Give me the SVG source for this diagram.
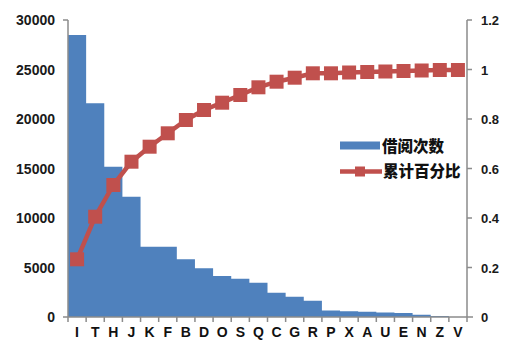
<svg xmlns="http://www.w3.org/2000/svg" width="506" height="343" viewBox="0 0 506 343">
<style>
.bar{fill:#4f81bd}
.axis{stroke:#8c8c8c;stroke-width:1.5;fill:none}
.lbl{font-family:"Liberation Sans",Arial,sans-serif;font-weight:bold;font-size:14px;fill:#1a1a1a}
.rl{font-family:"Liberation Sans",Arial,sans-serif;font-weight:bold;font-size:13px;fill:#1a1a1a}
.cat{font-family:"Liberation Sans",Arial,sans-serif;font-weight:bold;font-size:14px;fill:#111;text-anchor:middle}
.leg{font-family:"Noto Sans CJK SC",sans-serif;font-weight:900;font-size:15.5px;fill:#111}
.mk{fill:#c0504d}
.ln{stroke:#c0504d;stroke-width:4.5;fill:none;stroke-linejoin:round}
</style>
<rect width="506" height="343" fill="#ffffff"/>
<g id="bars">
<path class="bar" d="M68 317V35H86.14V103.3H104.27V166.7H122.41V196.7H140.55V246.7H176.82V259.3H194.95V268.3H213.09V276H231.23V278.7H249.36V282.7H267.5V292.7H285.64V296.7H303.77V300.7H321.91V310.5H340.05V311.3H358.18V311.8H376.32V312.5H394.45V313H412.59V314.8H430.73V316H448.86V317Z"/>
</g>
<g id="axes">
<path class="axis" d="M68 20V317M63 20H68M63 317H473M467 20V317M467 20H472M467 69.5H472M467 119H472M467 168.5H472M467 218H472M467 267.5H472M467 317H472"/>
<path class="axis" d="M68 317v5M86.14 317v5M104.27 317v5M122.41 317v5M140.55 317v5M158.68 317v5M176.82 317v5M194.95 317v5M213.09 317v5M231.23 317v5M249.36 317v5M267.5 317v5M285.64 317v5M303.77 317v5M321.91 317v5M340.05 317v5M358.18 317v5M376.32 317v5M394.45 317v5M412.59 317v5M430.73 317v5M448.86 317v5M467 317v5"/>
</g>
<g id="left-labels" text-anchor="end">
<text class="lbl" x="55" y="25">30000</text>
<text class="lbl" x="55" y="74.5">25000</text>
<text class="lbl" x="55" y="124">20000</text>
<text class="lbl" x="55" y="173.5">15000</text>
<text class="lbl" x="55" y="223">10000</text>
<text class="lbl" x="55" y="272.5">5000</text>
<text class="lbl" x="55" y="322">0</text>
</g>
<g id="right-labels">
<text class="rl" x="481" y="25">1.2</text>
<text class="rl" x="481" y="74.5">1</text>
<text class="rl" x="481" y="124">0.8</text>
<text class="rl" x="481" y="173.5">0.6</text>
<text class="rl" x="481" y="223">0.4</text>
<text class="rl" x="481" y="272.5">0.2</text>
<text class="rl" x="481" y="322">0</text>
</g>
<g id="categories">
<text class="cat" x="77.07" y="337">I</text>
<text class="cat" x="95.2" y="337">T</text>
<text class="cat" x="113.34" y="337">H</text>
<text class="cat" x="131.48" y="337">J</text>
<text class="cat" x="149.61" y="337">K</text>
<text class="cat" x="167.75" y="337">F</text>
<text class="cat" x="185.89" y="337">B</text>
<text class="cat" x="204.02" y="337">D</text>
<text class="cat" x="222.16" y="337">O</text>
<text class="cat" x="240.3" y="337">S</text>
<text class="cat" x="258.43" y="337">Q</text>
<text class="cat" x="276.57" y="337">C</text>
<text class="cat" x="294.7" y="337">G</text>
<text class="cat" x="312.84" y="337">R</text>
<text class="cat" x="330.98" y="337">P</text>
<text class="cat" x="349.11" y="337">X</text>
<text class="cat" x="367.25" y="337">A</text>
<text class="cat" x="385.39" y="337">U</text>
<text class="cat" x="403.52" y="337">E</text>
<text class="cat" x="421.66" y="337">N</text>
<text class="cat" x="439.8" y="337">Z</text>
<text class="cat" x="457.93" y="337">V</text>
</g>
<g id="cumulative-line">
<polyline class="ln" points="77.07,259.3 95.2,216.7 113.34,185 131.48,161.7 149.61,146.7 167.75,133.3 185.89,120 204.02,110 222.16,102.7 240.3,95 258.43,87.3 276.57,81.7 294.7,77.7 312.84,73.3 330.98,73.3 349.11,72.5 367.25,72 385.39,71.5 403.52,71 421.66,70.5 439.8,70 457.93,70"/>
<g class="mk">
<rect x="70.07" y="252.3" width="14" height="14"/>
<rect x="88.2" y="209.7" width="14" height="14"/>
<rect x="106.34" y="178" width="14" height="14"/>
<rect x="124.48" y="154.7" width="14" height="14"/>
<rect x="142.61" y="139.7" width="14" height="14"/>
<rect x="160.75" y="126.3" width="14" height="14"/>
<rect x="178.89" y="113" width="14" height="14"/>
<rect x="197.02" y="103" width="14" height="14"/>
<rect x="215.16" y="95.7" width="14" height="14"/>
<rect x="233.3" y="88" width="14" height="14"/>
<rect x="251.43" y="80.3" width="14" height="14"/>
<rect x="269.57" y="74.7" width="14" height="14"/>
<rect x="287.7" y="70.7" width="14" height="14"/>
<rect x="305.84" y="66.3" width="14" height="14"/>
<rect x="323.98" y="66.3" width="14" height="14"/>
<rect x="342.11" y="65.5" width="14" height="14"/>
<rect x="360.25" y="65" width="14" height="14"/>
<rect x="378.39" y="64.5" width="14" height="14"/>
<rect x="396.52" y="64" width="14" height="14"/>
<rect x="414.66" y="63.5" width="14" height="14"/>
<rect x="432.8" y="63" width="14" height="14"/>
<rect x="450.93" y="63" width="14" height="14"/>
</g>
</g>
<g id="legend">
<rect class="bar" x="340" y="141.5" width="40" height="8"/>
<text class="leg" x="382" y="151.5">借阅次数</text>
<line class="ln" x1="340" y1="171.5" x2="382" y2="171.5"/>
<rect class="mk" x="355" y="166.5" width="10" height="10"/>
<text class="leg" x="383" y="177">累计百分比</text>
</g>
</svg>
